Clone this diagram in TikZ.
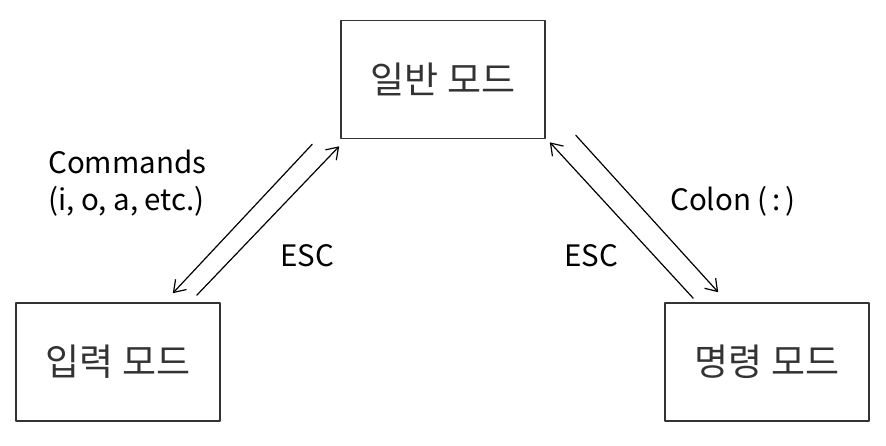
\documentclass[tikz,border=0pt]{standalone}
\usepackage{fontspec}
\setmainfont{Noto Sans CJK KR}
\usetikzlibrary{arrows.meta,calc}

\begin{document}
\begin{tikzpicture}[x=1pt,y=-1pt,>={Straight Barb[length=11pt,width=15pt]},line join=round,line cap=round,
  mode/.style={draw=black!80,line width=1.6pt,minimum width=204pt,minimum height=118pt,inner sep=0pt,
    font=\fontsize{37}{44}\selectfont,text=black!80},
  lab/.style={font=\fontsize{29.5}{37}\selectfont,inner sep=0pt},
  trans/.style={->,line width=1.2pt}]
\useasboundingbox (0,0) rectangle (886,446);
% modes
\node[mode] (normal) at (443,79.5) {일반 모드};
\node[mode] (insert) at (118,362) {입력 모드};
\node[mode] (command) at (767,362) {명령 모드};
% normal <-> insert
\draw[trans] ($(normal.south west)+(-28,5)$) -- ($(insert.north east)+(-48,-9)$);
\draw[trans] ($(insert.north east)+(-24,-7)$) -- ($(normal.south west)+(-1,7)$);
% normal <-> command
\draw[trans] ($(normal.south east)+(30,-4)$) -- ($(command.north west)+(54,-10)$);
\draw[trans] ($(command.north west)+(29,-4)$) -- ($(normal.south east)+(4,3)$);
% labels
\node[lab,align=left,anchor=west] (cmds) at (48,183) {Commands\\(i, o, a, etc.)};
\node[lab] (escl) at (307,256) {ESC};
\node[lab] (escr) at (591,256) {ESC};
\node[lab] (colon) at (733,201) {Colon (\,:\,)};
\end{tikzpicture}
\end{document}
